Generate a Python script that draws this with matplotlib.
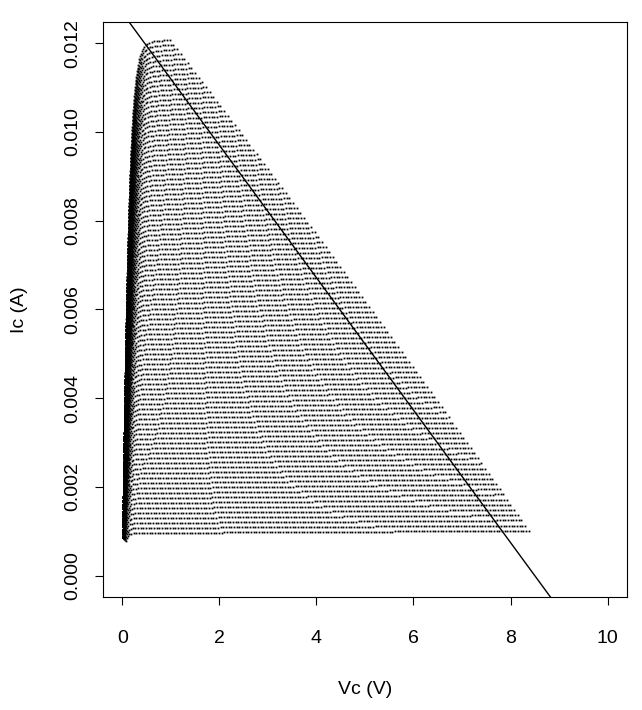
import numpy as np
import matplotlib
matplotlib.use('Agg')
import matplotlib.pyplot as plt

plt.rcParams['font.family'] = ['Liberation Sans', 'DejaVu Sans']

# base current sweep (one curve per Ib)
n_curves = 100
ib_first = 9.6e-6
ib_last = 120e-6
ib_levels = np.linspace(ib_first, ib_last, n_curves)

# transistor / circuit parameters
beta_f = 100.0
knee_first = 0.04   # knee width (V) of the lowest curve
knee_last = 0.085   # knee width (V) of the highest curve
r_c = 5.0
v_early = 150.0
r_load = 670.0
vcc_sweep = np.arange(0.60, 9.06, 0.055)

# load line drawn over the curves
vcc_line = 8.5
r_line = 670.0

x_ticks = [0, 2, 4, 6, 8, 10]
y_ticks = [0.000, 0.002, 0.004, 0.006, 0.008, 0.010, 0.012]


def sweep(ib, knee):
    i_f = beta_f * ib
    lo = np.zeros_like(vcc_sweep)
    hi = np.full_like(vcc_sweep, i_f * (1 - 1e-12))
    for _ in range(60):
        mid = (lo + hi) / 2
        vce = -knee * np.log(1 - mid / i_f) + r_c * mid
        too_big = vce + r_load * mid > vcc_sweep
        hi = np.where(too_big, mid, hi)
        lo = np.where(too_big, lo, mid)
    ic = (lo + hi) / 2
    vc = vcc_sweep - r_load * ic
    return vc, ic * (1 + vc / v_early)


fig = plt.figure(figsize=(6.42, 7.10), dpi=100)
ax = fig.add_axes([0.1604, 0.1592, 0.8162, 0.8098])

knees = np.linspace(knee_first, knee_last, n_curves)
for ib, knee in zip(ib_levels, knees):
    vc, ic = sweep(ib, knee)
    ax.plot(vc, ic, 's', ms=1.3, mew=0, color='black')

xl = np.array([-0.4, 10.4])
ax.plot(xl, (vcc_line - xl) / r_line, color='black', lw=1)

ax.set_xlim(-0.4, 10.4)
ax.set_ylim(-0.00048, 0.01248)
ax.set_xticks(x_ticks)
ax.set_yticks(y_ticks)
ax.set_yticklabels(['%.3f' % v for v in y_ticks], rotation=90, va='center')
ax.tick_params(direction='out', length=6, width=0.8, labelsize=14)
ax.tick_params(axis='x', pad=18)
ax.tick_params(axis='y', pad=10)
for s in ax.spines.values():
    s.set_linewidth(0.8)

ax.set_xlabel('Vc (V)', fontsize=14, labelpad=24)
ax.set_ylabel('Ic (A)', fontsize=14, labelpad=26)

fig.savefig('out.png', dpi=100)
